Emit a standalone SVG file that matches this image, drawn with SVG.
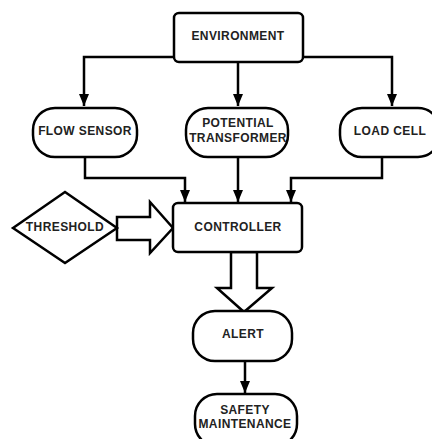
<svg xmlns="http://www.w3.org/2000/svg" width="432" height="439" viewBox="0 0 432 439">
<style>
.box{fill:#fff;stroke:#000;stroke-width:2.5}
.t{font-family:"Liberation Sans",Arial,sans-serif;font-weight:bold;font-size:12px;letter-spacing:0.4px;fill:#222;text-anchor:middle;dominant-baseline:central}
.c{fill:none;stroke:#000;stroke-width:2.5}
</style>
<defs>
<marker id="ah" markerUnits="userSpaceOnUse" markerWidth="12" markerHeight="10" refX="12" refY="5" orient="auto">
<path d="M0,0 L12,5 L0,10 z" fill="#000"/>
</marker>
</defs>
<rect width="432" height="439" fill="#fff"/>
<g id="connectors">
<path class="c" d="M174,57 H84 V106" marker-end="url(#ah)"/>
<path class="c" d="M303,57 H392 V106" marker-end="url(#ah)"/>
<path class="c" d="M238,62 V106" marker-end="url(#ah)"/>
<path class="c" d="M85,157 V178 H185 V202" marker-end="url(#ah)"/>
<path class="c" d="M238,157 V202" marker-end="url(#ah)"/>
<path class="c" d="M382,157 V178 H291 V202" marker-end="url(#ah)"/>
<path class="c" d="M245,361 V393" marker-end="url(#ah)"/>
<polygon class="box" points="117,217 150,217 150,202 173,228 150,253 150,240 117,240"/>
<polygon class="box" points="231,252 257,252 257,288 272,288 244,312 217,288 231,288"/>
</g>
<g id="environment">
<rect class="box" x="174" y="13" width="129" height="49" rx="5"/>
<text class="t" x="238" y="36">ENVIRONMENT</text>
</g>
<g id="flow-sensor">
<rect class="box" x="33" y="108" width="104" height="49" rx="22"/>
<text class="t" x="85" y="131">FLOW SENSOR</text>
</g>
<g id="potential-transformer">
<rect class="box" x="186" y="108" width="102" height="49" rx="22"/>
<text class="t" x="238" y="123">POTENTIAL</text>
<text class="t" x="238" y="138">TRANSFORMER</text>
</g>
<g id="load-cell">
<rect class="box" x="340" y="108" width="100" height="49" rx="22"/>
<text class="t" x="390" y="131">LOAD CELL</text>
</g>
<g id="threshold">
<polygon class="box" points="13,228 65,192 117,228 65,263"/>
<text class="t" x="65" y="227">THRESHOLD</text>
</g>
<g id="controller">
<rect class="box" x="173" y="203" width="129" height="49" rx="5"/>
<text class="t" x="238" y="227">CONTROLLER</text>
</g>
<g id="alert">
<rect class="box" x="193" y="311" width="99" height="50" rx="22"/>
<text class="t" x="243" y="334">ALERT</text>
</g>
<g id="safety-maintenance">
<rect class="box" x="195" y="394" width="102" height="52" rx="22"/>
<text class="t" x="245" y="410">SAFETY</text>
<text class="t" x="245" y="424">MAINTENANCE</text>
</g>
</svg>
